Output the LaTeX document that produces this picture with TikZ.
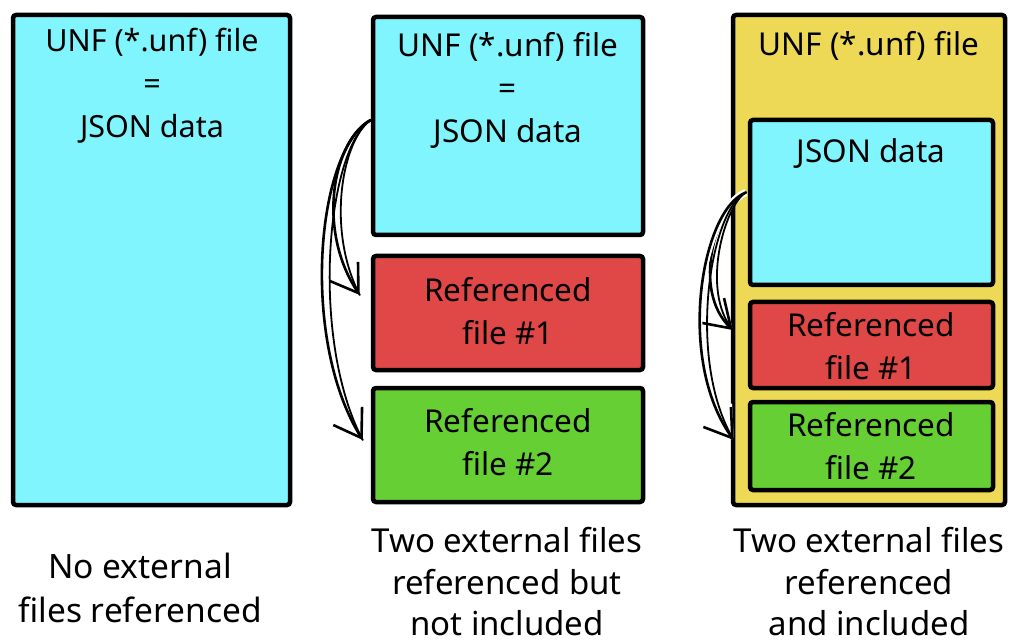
\documentclass[tikz,border=0pt]{standalone}
\usepackage{fontspec}
\setmainfont{Noto Sans}
\usetikzlibrary{arrows.meta,calc}
\definecolor{jsoncyan}{HTML}{80F5FE}
\definecolor{refred}{HTML}{E04747}
\definecolor{refgreen}{HTML}{66CF34}
\definecolor{unfyellow}{HTML}{EDD955}
\begin{document}
\begin{tikzpicture}[x=1pt,y=-1pt,
  box/.style={draw=black, line width=4.5pt, rounded corners=3pt, inner sep=0pt},
  txt/.style={font=\fontsize{31.5}{43}\selectfont, align=center, inner sep=0pt},
  captxt/.style={font=\fontsize{33}{41.5}\selectfont, align=center, inner sep=0pt},
  barb/.style={-{Straight Barb[length=26pt,width=34pt,line width=2.6pt]}},
  link/.style={line width=2.6pt, line cap=round, barb},
  sketch/.style={line width=1.8pt, line cap=round},
  halo/.style={preaction={draw=white, line width=7pt,
      -{Straight Barb[length=26pt,width=34pt,line width=7pt]}}}]
\useasboundingbox (0,0) rectangle (1012,644);

% left column: plain UNF file
\node[box, fill=jsoncyan, minimum width=277pt, minimum height=490pt] (plain) at (151.5,260) {};
\node[txt, font=\fontsize{30.5}{43}\selectfont] (plaintxt) at (152,86) {UNF (*.unf) file\\=\\JSON data};
\node[captxt, font=\fontsize{33.5}{44}\selectfont] (cap1) at (140,588) {No external\\files referenced};

% middle column: external references kept outside
\node[box, fill=jsoncyan, minimum width=270pt, minimum height=218pt] (ext) at (508,126) {};
\node[txt] (exttxt) at (508,90) {UNF (*.unf) file\\=\\JSON data};
\node[box, fill=refred, minimum width=270pt, minimum height=114pt] (extA) at (508,313) {};
\node[txt] (extAtxt) at (508,311) {Referenced\\file \#1};
\node[box, fill=refgreen, minimum width=270pt, minimum height=114pt] (extB) at (508,445) {};
\node[txt] (extBtxt) at (508,442) {Referenced\\file \#2};
\node[captxt] (cap2) at (507,582) {Two external files\\referenced but\\not included};

% right column: references bundled into the UNF file
\node[box, fill=unfyellow, minimum width=272pt, minimum height=490pt] (bundle) at (869,260) {};
\node[txt, anchor=base] (bundletxt) at (869,56) {UNF (*.unf) file};
\node[box, fill=jsoncyan, minimum width=243pt, minimum height=165pt] (inner) at (871.5,202.5) {};
\node[txt, anchor=base] (innertxt) at (871,163) {JSON data};
\node[box, fill=refred, minimum width=243pt, minimum height=86pt] (innerA) at (871.5,345) {};
\node[txt] (innerAtxt) at (871,346) {Referenced\\file \#1};
\node[box, fill=refgreen, minimum width=243pt, minimum height=88pt] (innerB) at (871.5,446) {};
\node[txt] (innerBtxt) at (871,446) {Referenced\\file \#2};
\node[captxt] (cap3) at (869,582) {Two external files\\referenced\\and included};

% reference arrows, each with a second rough stroke beside it
\coordinate (extsrc) at ($(ext.west)+(0,-6)$);
\coordinate (extAin) at ($(extA.west)+(-11,-18)$);
\coordinate (extBin) at ($(extB.west)+(-8,-5)$);
\draw[sketch] (extsrc) .. controls (342,140) and (326,230) .. (extAin);
\draw[sketch] (extsrc) .. controls (326,150) and (310,340) .. (extBin);
\draw[link] (extsrc) .. controls (333,140) and (316,230) .. (extAin);
\draw[link] (extsrc) .. controls (316,150) and (300,340) .. (extBin);

\coordinate (innersrc) at ($(inner.west)+(-2,-10)$);
\coordinate (innerAin) at ($(innerA.west)+(-15,-15)$);
\coordinate (innerBin) at ($(innerB.west)+(-14,-6)$);
\draw[link, halo] (innersrc) .. controls (716,205) and (691,290) .. (innerAin);
\draw[link, halo] (innersrc) .. controls (701,210) and (676,360) .. (innerBin);
\draw[sketch] (innersrc) .. controls (725,205) and (700,290) .. (innerAin);
\draw[sketch] (innersrc) .. controls (710,210) and (686,360) .. (innerBin);
\end{tikzpicture}
\end{document}
